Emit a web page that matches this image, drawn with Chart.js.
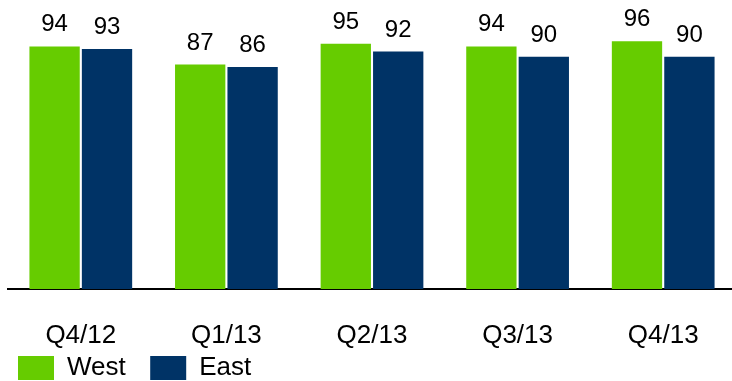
<!DOCTYPE html>
<html>
<head>
<meta charset="utf-8">
<script src="https://cdn.jsdelivr.net/npm/chart.js@4"></script>
<style>
  html, body { margin: 0; padding: 0; background: #fff; overflow: hidden; }
  #wrap { width: 736px; height: 381px; }
</style>
</head>
<body>
<div id="wrap"><canvas id="quarterChart" width="736" height="381"></canvas></div>
<script>
const quarters = ['Q4/12', 'Q1/13', 'Q2/13', 'Q3/13', 'Q4/13'];
const westValues = [94, 87, 95, 94, 96];
const eastValues = [93, 86, 92, 90, 90];

const FONT = 'Liberation Sans, Arial, sans-serif';

// values above bars, placed from each bar element
const barValueLabels = {
  id: 'barValueLabels',
  afterDatasetsDraw(chart) {
    const ctx = chart.ctx;
    ctx.save();
    ctx.font = '24px ' + FONT;
    ctx.fillStyle = '#000';
    ctx.textAlign = 'center';
    ctx.textBaseline = 'alphabetic';
    chart.data.datasets.forEach((ds, i) => {
      chart.getDatasetMeta(i).data.forEach((bar, j) => {
        ctx.fillText(ds.data[j], bar.x, bar.y - 15);
      });
    });
    ctx.restore();
  }
};

// x labels sit partly over the legend box, so don't clip them at the scale bottom
const unclipXLabels = {
  id: 'unclipXLabels',
  afterLayout(chart) {
    chart.scales.x.bottom = chart.height;
  }
};

new Chart(document.getElementById('quarterChart'), {
  type: 'bar',
  data: {
    labels: quarters,
    datasets: [
      { label: 'West', data: westValues, backgroundColor: '#66CC00' },
      { label: 'East', data: eastValues, backgroundColor: '#003366' }
    ]
  },
  options: {
    responsive: false,
    animation: false,
    devicePixelRatio: 1,
    layout: { padding: { left: 8, right: 0, top: 0, bottom: -10 } },
    datasets: { bar: { categoryPercentage: 0.72, barPercentage: 0.96 } },
    scales: {
      x: {
        grid: { display: false, drawTicks: false },
        border: { display: true, color: '#000', width: 2 },
        ticks: { color: '#000', font: { family: FONT, size: 26 }, padding: 31 },
        afterFit: (scale) => { scale.height = 56; }
      },
      y: { display: false, min: 0, max: 112 }
    },
    plugins: {
      legend: {
        position: 'bottom',
        align: 'start',
        labels: {
          color: '#000',
          font: { family: FONT, size: 26 },
          boxWidth: 36,
          boxHeight: 24,
          padding: 10,
          generateLabels: (chart) =>
            Chart.defaults.plugins.legend.labels.generateLabels(chart)
              .map(item => ({ ...item, text: item.text + '\u00a0\u00a0' }))
        }
      },
      tooltip: { enabled: false }
    }
  },
  plugins: [barValueLabels, unclipXLabels]
});
</script>
</body>
</html>
